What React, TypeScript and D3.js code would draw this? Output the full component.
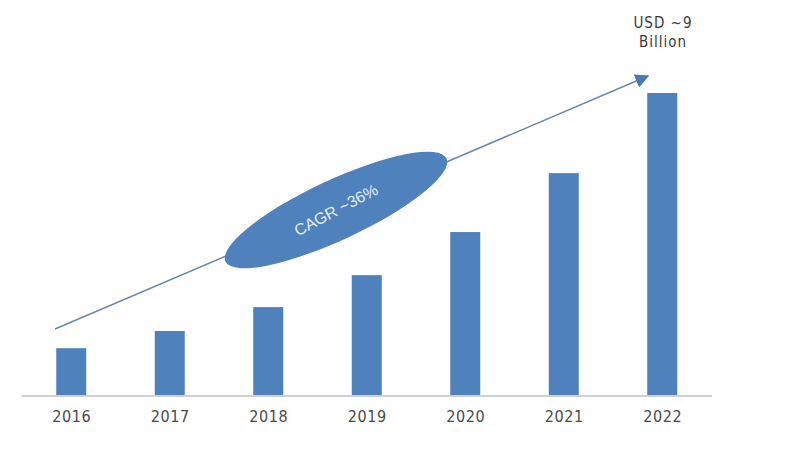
import React from "react";
import * as d3 from "d3";

const years = ["2016", "2017", "2018", "2019", "2020", "2021", "2022"];
const values = [1.42, 1.93, 2.64, 3.59, 4.87, 6.62, 9.0];
const topLabel = ["USD ~9", "Billion"];
const cagrLabel = "CAGR ~36%";

const W = 800;
const H = 461;
const baseY = 396;
const axisX0 = 22;
const axisX1 = 712;
const barW = 30;
const FONT = "'Liberation Sans Narrow', 'DejaVu Sans Condensed', 'Liberation Sans', Arial, sans-serif";

export default function App() {
  const x = d3.scalePoint<string>().domain(years).range([axisX0, axisX1 - 0.5]).padding(0.5);
  const y = d3.scaleLinear().domain([0, 9]).range([baseY, 93]);

  const arrowStart: [number, number] = [55, 329];
  const arrowEnd: [number, number] = [648, 76];
  const line = d3.line();
  const cx = 336;
  const cy = 210;

  return (
    <svg width={W} height={H} style={{ position: "absolute", left: 0, top: 0, background: "#fff" }}>
      <defs>
        <marker id="ah2" viewBox="0 0 10 10" refX="9" refY="5" markerWidth="14" markerHeight="14" orient="auto" markerUnits="userSpaceOnUse">
          <path d="M0,0 L10,5 L0,10 z" fill="#4a78b2" />
        </marker>
      </defs>
      <rect width={W} height={H} fill="#fff" />
      {years.map((yr, i) => (
        <rect
          key={yr}
          x={(x(yr) as number) - barW / 2}
          y={y(values[i])}
          width={barW}
          height={baseY - y(values[i])}
          fill="#4f81bd"
        />
      ))}
      <line x1={axisX0} x2={axisX1} y1={baseY} y2={baseY} stroke="#d0d0d0" strokeWidth={2} />
      {years.map((yr) => (
        <text
          key={"t" + yr}
          x={(x(yr) as number) + 0.5}
          y={422}
          textAnchor="middle"
          fontFamily={FONT}
          fontSize={16}
          letterSpacing={0.6}
          fill="#4a4a4a"
        >
          {yr}
        </text>
      ))}
      <path d={line([arrowStart, arrowEnd]) as string} stroke="#6a86aa" strokeWidth={1.5} fill="none" markerEnd="url(#ah2)" />
      <ellipse cx={cx} cy={cy} rx={122} ry={30} fill="#4f81bd" transform={`rotate(-25 ${cx} ${cy})`} />
      <text
        x={cx}
        y={cy}
        textAnchor="middle"
        dominantBaseline="central"
        fontFamily="'Liberation Sans', Arial, sans-serif"
        fontSize={16}
        fill="#e4ecf7"
        transform={`rotate(-28 ${cx} ${cy})`}
      >
        {cagrLabel}
      </text>
      {topLabel.map((t, i) => (
        <text
          key={t}
          x={663}
          y={28 + i * 19}
          textAnchor="middle"
          fontFamily={FONT}
          fontSize={15}
          letterSpacing={1}
          fill="#3a3a3a"
        >
          {t}
        </text>
      ))}
    </svg>
  );
}
